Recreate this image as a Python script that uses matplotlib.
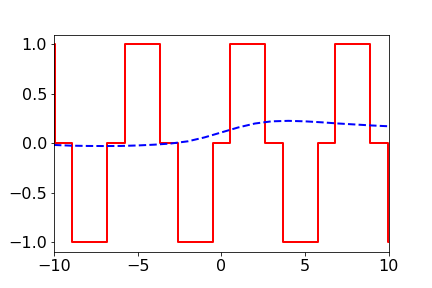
import matplotlib
matplotlib.use('Agg')
import matplotlib.pyplot as plt

# step signal: x where each level starts, and the level
step_x = [-10, -9.95, -8.94, -6.82, -5.76, -3.67, -2.62, -0.52, 0.52, 2.62,
          3.67, 5.76, 6.81, 8.90, 9.95, 10]
step_y = [1, 0, -1, 0, 1, 0, -1, 0, 1, 0, -1, 0, 1, 0, -1, -1]

# smooth dashed curve
curve_x = [-10, -9, -8, -7, -6, -5, -4, -3, -2, -1, 0, 1, 2, 3, 4, 5, 6, 7, 8, 9, 10]
curve_y = [-0.017, -0.024, -0.027, -0.028, -0.027, -0.022, -0.014, -0.002, 0.02,
           0.06, 0.11, 0.16, 0.20, 0.222, 0.227, 0.222, 0.212, 0.20, 0.19, 0.18, 0.172]

plt.rcParams['font.size'] = 16

fig = plt.figure(figsize=(6, 4), dpi=72)
fig.subplots_adjust(left=0.125, right=0.9, top=0.88, bottom=0.125)
ax = fig.add_subplot(111)

ax.plot(step_x, step_y, color='r', lw=2, drawstyle='steps-post')
ax.plot(curve_x, curve_y, color='b', lw=2, linestyle='--')

ax.set_xlim(-10, 10)
ax.set_xticks([-10, -5, 0, 5, 10])
ax.set_yticks([-1.0, -0.5, 0.0, 0.5, 1.0])

fig.savefig('out.png', dpi=72)
